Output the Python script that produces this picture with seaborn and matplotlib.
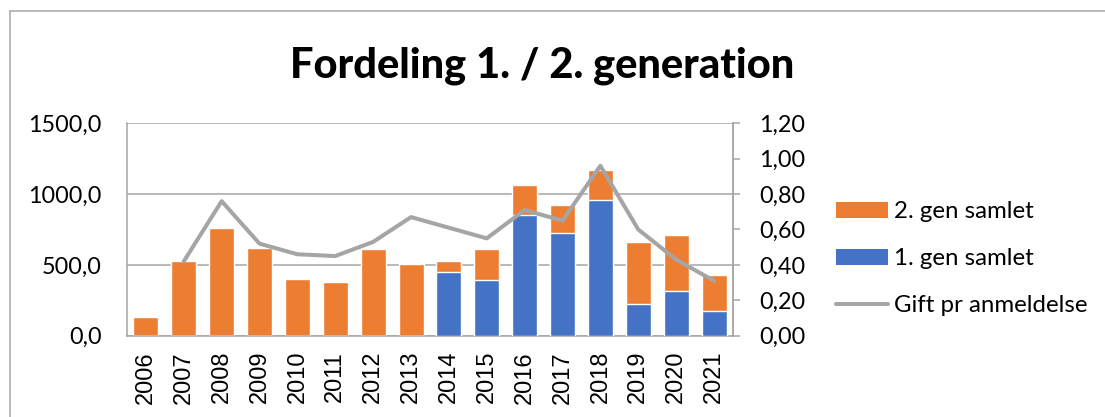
import numpy as np
import pandas as pd
import matplotlib
matplotlib.use("Agg")
import matplotlib.pyplot as plt
import seaborn as sns
from matplotlib.patches import Patch
from matplotlib.lines import Line2D
from matplotlib.ticker import FuncFormatter, MultipleLocator

years = ["2006", "2007", "2008", "2009", "2010", "2011", "2012", "2013",
         "2014", "2015", "2016", "2017", "2018", "2019", "2020", "2021"]
gen1 = [0, 0, 0, 0, 0, 0, 0, 0, 453, 396, 850, 728, 958, 226, 318, 177]
gen2 = [134, 530, 760, 621, 403, 377, 612, 506, 75, 219, 214, 197, 215, 433, 393, 254]
gift = [np.nan, 0.42, 0.76, 0.52, 0.46, 0.45, 0.53, 0.67, 0.61, 0.55, 0.71, 0.65, 0.96, 0.60, 0.43, 0.31]

title = "Fordeling 1. / 2. generation"
labels = ["2. gen samlet", "1. gen samlet", "Gift pr anmeldelse"]

ORANGE = "#ED7D31"
BLUE = "#4472C4"
GRAY = "#A5A5A5"
GRID = "#A6A6A6"

df = pd.DataFrame({"year": years, "gen1": gen1, "gen2": gen2, "gift": gift})
df["total"] = df["gen1"] + df["gen2"]
df["pos"] = np.arange(len(df))

sns.set_theme(style="white")
plt.rcParams["font.family"] = ["Lato", "DejaVu Sans"]
plt.rcParams["text.color"] = "black"
plt.rcParams["xtick.color"] = "black"
plt.rcParams["ytick.color"] = "black"

fig = plt.figure(figsize=(11.05, 4.17), dpi=100)
ax = fig.add_axes([0.1149, 0.195, 0.5484, 0.5093])

sns.barplot(data=df, x="year", y="total", color=ORANGE, width=0.66,
            saturation=1, ax=ax, zorder=2)
sns.barplot(data=df, x="year", y="gen1", color=BLUE, width=0.66,
            saturation=1, ax=ax, zorder=3)

ax.set_ylim(0, 1500)
ax.yaxis.set_major_locator(MultipleLocator(500))
ax.yaxis.set_major_formatter(FuncFormatter(lambda v, p: f"{v:.1f}".replace(".", ",")))
ax.set_xlim(-0.5, len(years) - 0.5)
ax.set_xlabel("")
ax.set_ylabel("")
ax.grid(axis="y", color=GRID, linewidth=1.1, zorder=0)
ax.set_axisbelow(True)
for s in ["left", "bottom", "top", "right"]:
    ax.spines[s].set_color(GRID)
    ax.spines[s].set_linewidth(1.1)
ax.spines["top"].set_visible(False)
ax.tick_params(axis="y", length=0, pad=18, labelsize=16.8, labelcolor="black")
ax.tick_params(axis="x", length=0, pad=11, labelsize=17, labelcolor="black")
for t in ax.get_xticklabels():
    t.set_rotation(90)
    t.set_fontfamily(["Liberation Sans", "DejaVu Sans"])

ax2 = ax.twinx()
sns.lineplot(data=df, x="pos", y="gift", color=GRAY, linewidth=2.9, ax=ax2,
             zorder=4)
ax2.set_ylim(0, 1.2)
ax2.set_xlim(-0.5, len(years) - 0.5)
ax2.yaxis.set_major_locator(MultipleLocator(0.2))
ax2.yaxis.set_major_formatter(FuncFormatter(lambda v, p: f"{v:.2f}".replace(".", ",")))
ax2.set_ylabel("")
ax2.set_xlabel("")
for s in ["left", "bottom", "top", "right"]:
    ax2.spines[s].set_visible(False)
ax2.spines["right"].set_visible(True)
ax2.spines["right"].set_color(GRID)
ax2.spines["right"].set_linewidth(1.1)
ax2.tick_params(axis="y", right=True, length=5, width=1.1, color=GRID, pad=14,
                labelsize=16.8, labelcolor="black", direction="out")
ax2.grid(False)

fig.text(0.491, 0.813, title, ha="center", va="baseline", fontsize=30,
         fontweight=900, color="black")

handles = [Patch(facecolor=ORANGE, edgecolor="none"),
           Patch(facecolor=BLUE, edgecolor="none"),
           Line2D([0], [0], color=GRAY, linewidth=2.9)]
fig.legend(handles, labels, loc="upper left", bbox_to_anchor=(0.748, 0.54),
           frameon=False, fontsize=17.3, handlelength=2.15, handleheight=0.62,
           handletextpad=0.25, labelspacing=1.08, borderaxespad=0,
           labelcolor="black")

# chart frame (top and left edges visible in reference)
fig.add_artist(Line2D([10 / 1105, 1.0], [1 - 11 / 417, 1 - 11 / 417],
                      transform=fig.transFigure, color=GRID, linewidth=1.1))
fig.add_artist(Line2D([10 / 1105, 10 / 1105], [0.0, 1 - 11 / 417],
                      transform=fig.transFigure, color=GRID, linewidth=1.1))

fig.savefig("out.png", dpi=100)
